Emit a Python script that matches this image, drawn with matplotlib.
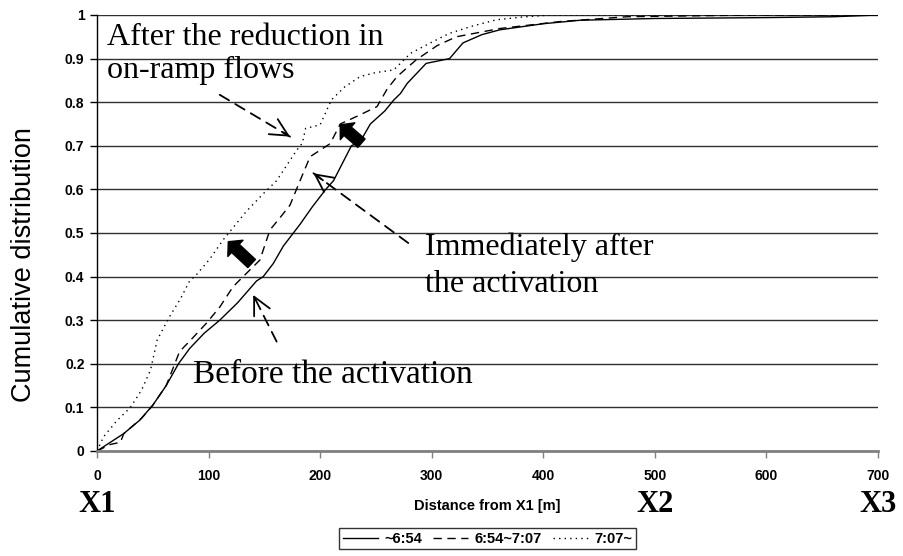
import matplotlib
matplotlib.use("Agg")
import matplotlib.pyplot as plt

# series (distance from X1 [m], cumulative share)
before_x = [0, 12, 24, 38, 50, 62, 73, 83, 96, 110, 126, 143, 149, 158, 167, 182,
            193, 205, 212, 220, 228, 236, 245, 258, 266, 272, 278, 295, 316, 328,
            345, 361, 400, 433, 500, 600, 660, 690, 700]
before_y = [0, 0.02, 0.04, 0.07, 0.105, 0.15, 0.2, 0.235, 0.27, 0.30, 0.34, 0.39,
            0.40, 0.43, 0.47, 0.52, 0.56, 0.60, 0.62, 0.66, 0.70, 0.71, 0.75,
            0.78, 0.805, 0.82, 0.843, 0.889, 0.90, 0.936, 0.955, 0.966, 0.98,
            0.988, 0.992, 0.994, 0.996, 0.999, 1.0]

during_x = [0, 12, 21, 24, 40, 50, 62, 74, 86, 98, 110, 122, 131, 146, 155, 164,
            173, 182, 191, 200, 209, 218, 235, 251, 260, 269, 286, 305, 322, 361,
            415, 475, 588, 700]
during_y = [0, 0.015, 0.02, 0.04, 0.075, 0.105, 0.15, 0.228, 0.26, 0.293, 0.33,
            0.377, 0.40, 0.438, 0.507, 0.535, 0.564, 0.62, 0.675, 0.69, 0.705,
            0.75, 0.77, 0.79, 0.83, 0.859, 0.897, 0.93, 0.95, 0.969, 0.985,
            0.996, 1.0, 1.0]

after_x = [0, 6, 18, 30, 40, 48, 54, 65, 75, 83, 89, 101, 113, 119, 134, 149, 161,
           170, 179, 184, 187, 200, 210, 222, 236, 250, 266, 281, 298, 316, 337,
           358, 380, 406, 700]
after_y = [0, 0.033, 0.07, 0.10, 0.14, 0.186, 0.255, 0.308, 0.35, 0.39, 0.404,
           0.44, 0.484, 0.503, 0.55, 0.59, 0.62, 0.655, 0.69, 0.706, 0.74, 0.748,
           0.805, 0.835, 0.859, 0.868, 0.874, 0.912, 0.935, 0.958, 0.975, 0.989,
           0.995, 1.0, 1.0]

labels = ["~6:54", "6:54~7:07", "7:07~"]
x_ticks = [0, 100, 200, 300, 400, 500, 600, 700]
y_ticks = [0, 0.1, 0.2, 0.3, 0.4, 0.5, 0.6, 0.7, 0.8, 0.9, 1]
y_tick_labels = ["0", "0.1", "0.2", "0.3", "0.4", "0.5", "0.6", "0.7", "0.8", "0.9", "1"]
points = {"X1": 0, "X2": 500, "X3": 700}

sans = "Liberation Sans"
serif = "Liberation Serif"

fig = plt.figure(figsize=(9.04, 5.56), dpi=100)
ax = fig.add_axes([97/904, 1-451/556, 781/904, 436/556])

ax.plot(before_x, before_y, color="k", lw=1.0, ls="-", label=labels[0])
ax.plot(during_x, during_y, color="k", lw=1.0, ls=(0, (6, 4)), label=labels[1])
ax.plot(after_x, after_y, color="k", lw=1.0, ls=(0, (1, 3)), label=labels[2])

ax.set_xlim(0, 700)
ax.set_ylim(0, 1)
ax.set_xticks(x_ticks)
ax.set_yticks(y_ticks)
ax.set_yticklabels(y_tick_labels)
for t in ax.get_xticklabels() + ax.get_yticklabels():
    t.set_fontfamily(sans)
    t.set_fontweight("bold")
    t.set_fontsize(10)
ax.tick_params(direction="out", length=5, width=1, color="k", pad=4)
ax.tick_params(axis="x", color="#808080", pad=8)

ax.yaxis.grid(True, color="#303030", lw=1)
ax.set_axisbelow(True)
for s in ["top", "right"]:
    ax.spines[s].set_visible(False)
ax.spines["left"].set_color("k")
ax.spines["left"].set_linewidth(1)
ax.spines["bottom"].set_color("#808080")
ax.spines["bottom"].set_linewidth(2)

ax.set_xlabel("Distance from X1 [m]", fontfamily=sans, fontweight="bold", fontsize=10.5)
ax.xaxis.set_label_coords(0.5, -(499-451)/436)
ax.set_ylabel("Cumulative distribution", fontfamily=sans, fontsize=19.5)
ax.yaxis.set_label_coords(-(97-37)/781, (451-265)/436)

for name, xv in points.items():
    ax.text(xv, -(512-451)/436, name, transform=ax.get_xaxis_transform(),
            ha="center", va="baseline", fontfamily=serif, fontweight="bold",
            fontsize=22, clip_on=False)

# annotations
ax.text(9, 0.931, "After the reduction in", fontfamily=serif, fontsize=23)
ax.text(9, 0.855, "on-ramp flows", fontfamily=serif, fontsize=23)
ax.text(294, 0.4495, "Immediately after", fontfamily=serif, fontsize=23)
ax.text(294, 0.365, "the activation", fontfamily=serif, fontsize=23)
ax.text(86, 0.156, "Before the activation", fontfamily=serif, fontsize=24)


def dashed_arrow(tail, head):
    ax.annotate("", xy=head, xytext=tail,
                arrowprops=dict(arrowstyle="-", ls=(0, (6, 4)), lw=1.3, color="k",
                                shrinkA=0, shrinkB=0))
    back = (head[0] + 0.1*(tail[0]-head[0]), head[1] + 0.1*(tail[1]-head[1]))
    ax.annotate("", xy=head, xytext=back,
                arrowprops=dict(arrowstyle="->,head_length=0.9,head_width=0.45",
                                lw=1.3, color="k", shrinkA=0, shrinkB=0,
                                mutation_scale=14))


dashed_arrow((110, 0.817), (173, 0.721))
dashed_arrow((279, 0.477), (194, 0.637))
dashed_arrow((161, 0.251), (140, 0.358))

# thick black arrows showing the shift
for tail, head in [((237, 0.706), (218, 0.748)), ((138.6, 0.430), (117.7, 0.480))]:
    ax.annotate("", xy=head, xytext=tail,
                arrowprops=dict(width=8, headwidth=16, headlength=7, shrink=0,
                                fc="k", ec="k"))

leg = ax.legend(loc="upper center", bbox_to_anchor=(0.5, -(528-451)/436), ncol=3,
                frameon=True, fancybox=False, edgecolor="k", handlelength=2.4,
                handletextpad=0.4, columnspacing=0.8, borderpad=0.25,
                borderaxespad=0, prop=dict(family=sans, weight="bold", size=10.5))
leg.get_frame().set_linewidth(1)

fig.savefig("out.png", dpi=100)
